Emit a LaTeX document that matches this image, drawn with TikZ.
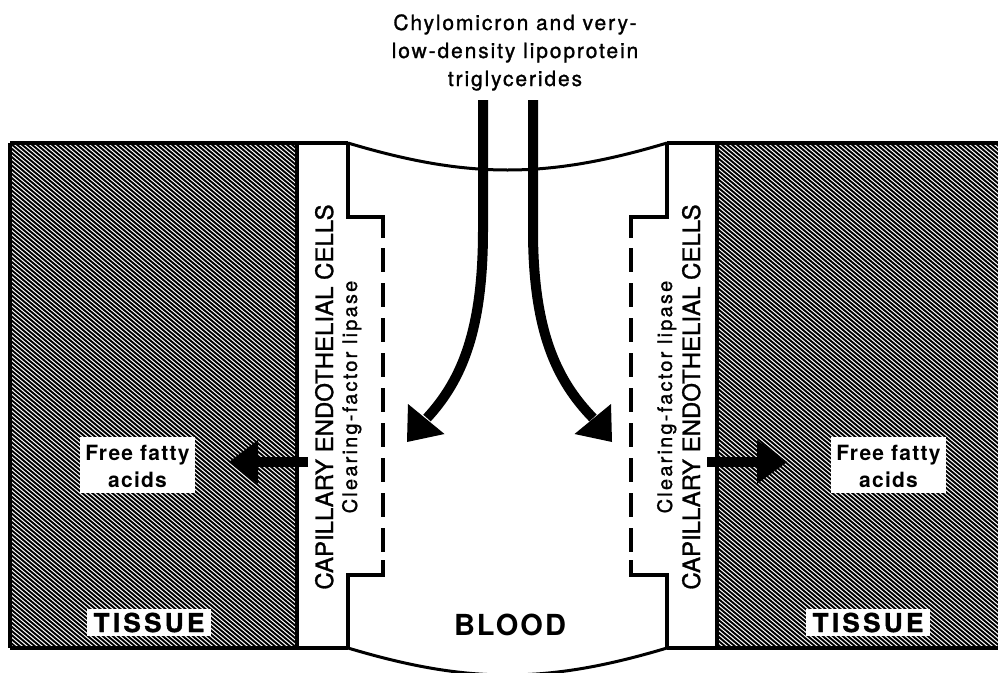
\documentclass[tikz,border=0pt]{standalone}
\usepackage{fontspec}
\setmainfont{TeX Gyre Heros}
\begin{document}
\begin{tikzpicture}[x=1pt,y=-1pt,
  wall/.style={line width=3.5pt, line join=miter},
  curvewall/.style={line width=3pt},
  dashwall/.style={line width=4pt, dash pattern=on 24pt off 11pt},
  hatchline/.style={line width=1.9pt},
  shaft/.style={line width=10pt},
  head/.style={fill=black, draw=none},
  toplbl/.style={anchor=base, inner sep=0pt, font=\fontsize{21}{28}\selectfont\addfontfeatures{LetterSpace=9,FakeBold=1.2}},
  capl/.style={rotate=90, anchor=base, inner sep=0pt, font=\fontsize{24}{28}\selectfont\addfontfeatures{FakeBold=1.2}},
  cfl/.style={rotate=90, anchor=base, inner sep=0pt, font=\fontsize{20}{24}\selectfont\addfontfeatures{LetterSpace=11,FakeBold=1.2}},
  ffabox/.style={fill=white, draw=none, minimum width=115pt, minimum height=56pt, inner sep=0pt},
  ffatext/.style={anchor=base, inner sep=0pt, font=\fontsize{21}{27}\bfseries\addfontfeatures{LetterSpace=6}},
  tissuebox/.style={fill=white, draw=none, minimum width=124pt, minimum height=27pt, inner sep=0pt},
  tissuelbl/.style={anchor=base, inner sep=0pt, font=\fontsize{26}{30}\bfseries\addfontfeatures{LetterSpace=13,FakeBold=1.5}},
  bloodlbl/.style={anchor=base, inner sep=0pt, font=\fontsize{29}{32}\bfseries\addfontfeatures{LetterSpace=7}}
]
\useasboundingbox (0,0) rectangle (998,672);

% hatched tissue
\begin{scope}
  \clip (10,143) rectangle (297,648) (717,143) rectangle (998,648);
  \foreach \x in {-600,-595,...,1000} \draw[hatchline] (\x,143) -- ++(602,505);
\end{scope}

% key coordinates
\coordinate (oTL) at (10,143);
\coordinate (oBL) at (10,648);
\coordinate (lcT) at (348,143);
\coordinate (lcB) at (348,648);
\coordinate (rcT) at (667,143);
\coordinate (rcB) at (667,648);
\coordinate (oTR) at (998,143);
\coordinate (oBR) at (998,648);

% outer walls
\draw[wall] (oTL) -- (lcT);
\draw[wall] (rcT) -- (oTR);
\draw[wall] (oBL) -- (lcB);
\draw[wall] (rcB) -- (oBR);
\draw[wall] (oTL) -- (oBL);
\draw[wall] (297,143) -- (297,648);
\draw[wall] (717,143) -- (717,648);
\draw[curvewall] (lcT) .. controls (468,179) and (547,179) .. (rcT);
\draw[curvewall] (lcB) .. controls (468,684) and (547,684) .. (rcB);

% inner walls left
\draw[wall] (lcT) -- (348,217) -- (383,217) -- (383,238);
\draw[dashwall] (383,248) -- (383,556);
\draw[wall] (383,560) -- (383,575) -- (348,575) -- (lcB);
% inner walls right
\draw[wall] (rcT) -- (667,217) -- (631,217) -- (631,238);
\draw[dashwall] (631,248) -- (631,556);
\draw[wall] (631,560) -- (631,575) -- (667,575) -- (rcB);

% curved arrows
\coordinate (aLs) at (483,100);
\coordinate (aLe) at (427,418);
\draw[shaft] (aLs) -- (483,230) .. controls (483,330) and (462,380) .. (aLe);
\fill[head] (407,442) -- (408,404) -- (444.5,434) -- cycle;
\coordinate (aRs) at (533,100);
\coordinate (aRe) at (593,418);
\draw[shaft] (aRs) -- (533,230) .. controls (533,330) and (556,380) .. (aRe);
\fill[head] (612,442) -- (611,404) -- (574.5,434) -- cycle;

% straight arrows
\draw[shaft] (308,462) -- (255,462);
\fill[head] (229,462) -- (258,440) -- (258,484) -- cycle;
\draw[shaft] (707,462) -- (760,462);
\fill[head] (787,462) -- (757,440) -- (757,484) -- cycle;

% top label
\node[toplbl] (t1) at (515,30) {Chylomicron and very-};
\node[toplbl] (t2) at (515,58) {low-density lipoprotein};
\node[toplbl] (t3) at (515,86) {triglycerides};

% vertical labels
\node[capl] (capL) at (333,397) {CAPILLARY ENDOTHELIAL CELLS};
\node[cfl] (cflL) at (357,397) {Clearing-factor lipase};
\node[cfl] (cflR) at (672,397) {Clearing-factor lipase};
\node[capl] (capR) at (700,397) {CAPILLARY ENDOTHELIAL CELLS};

% free fatty acids
\node[ffabox] (ffaL) at (137.5,465) {};
\node[ffatext] (ffaL1) at (137.5,460) {Free fatty};
\node[ffatext] (ffaL2) at (137.5,487) {acids};
\node[ffabox] (ffaR) at (888.5,465) {};
\node[ffatext] (ffaR1) at (888.5,460) {Free fatty};
\node[ffatext] (ffaR2) at (888.5,487) {acids};

% tissue labels
\node[tissuebox] (tisLbox) at (149,622) {};
\node[tissuelbl] (tisL) at (149,632) {TISSUE};
\node[tissuebox] (tisRbox) at (868,622) {};
\node[tissuelbl] (tisR) at (868,632) {TISSUE};

% blood
\node[bloodlbl] (blood) at (510,635) {BLOOD};
\end{tikzpicture}
\end{document}
